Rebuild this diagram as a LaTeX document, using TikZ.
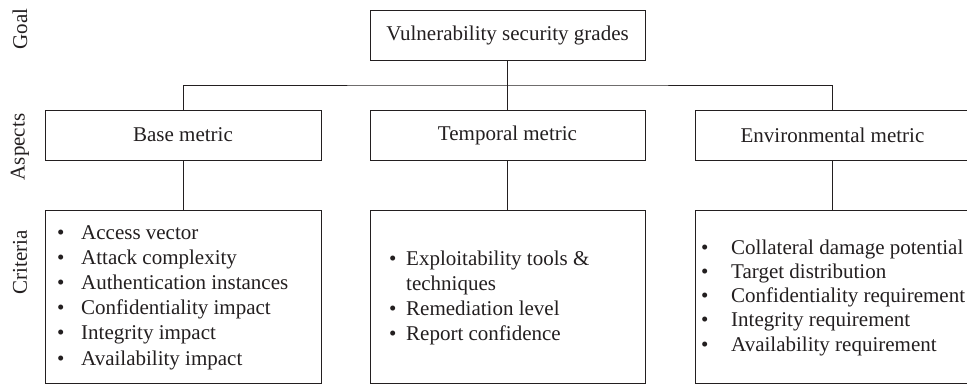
\documentclass[tikz,border=0pt]{standalone}
\usepackage{fontspec}
\setmainfont{Liberation Serif}
\definecolor{ink}{HTML}{231F20}
\newcommand{\critline}[5]{%
  \node[itm] (#1b) at (#2,#4) {\textbullet};
  \node[itm] (#1) at (#3,#4) {#5};}
\begin{document}
\begin{tikzpicture}[x=1pt,y=-1pt,
  font=\fontsize{21}{25}\selectfont,
  every node/.style={text=ink},
  box/.style={draw=ink, line width=1pt, minimum width=275pt, minimum height=50pt, inner sep=0pt},
  crit/.style={draw=ink, line width=1pt, minimum width=275pt, minimum height=173pt, inner sep=0pt},
  lbl/.style={rotate=90, inner sep=0pt},
  itm/.style={anchor=base west, inner sep=0pt},
  link/.style={draw=ink, line width=1pt}]
\useasboundingbox (0,0) rectangle (967,384);
\fill[white] (0,0) rectangle (967,384);
% level labels
\node[lbl] (lgoal) at (20,29) {Goal};
\node[lbl] (lasp) at (20,147) {Aspects};
\node[lbl] (lcrit) at (20,262) {Criteria};
% boxes
\node[box] (goal) at (507.5,35) {Vulnerability security grades};
\node[box, minimum width=276pt] (base) at (183,135) {Base metric};
\node[box] (temp) at (507.5,135) {Temporal metric};
\node[box] (env) at (832.5,135) {Environmental metric};
\node[crit, minimum width=276pt] (basec) at (183,296.5) {};
\node[crit] (tempc) at (507.5,296.5) {};
\node[crit] (envc) at (832.5,296.5) {};
% connectors
\coordinate (bus) at (507.5,85);
\draw[link] (base.north) |- (bus) -| (env.north);
\draw[link] (goal.south) -- (temp.north);
\draw[link] (base.south) -- (basec.north);
\draw[link] (temp.south) -- (tempc.north);
\draw[link] (env.south) -- (envc.north);
% base criteria
\critline{ba}{57}{81}{239}{Access vector}
\critline{bb}{57}{81}{264}{Attack complexity}
\critline{bc}{57}{81}{289}{Authentication instances}
\critline{bd}{57}{81}{314}{Confidentiality impact}
\critline{be}{57}{81}{339}{Integrity impact}
\critline{bf}{57}{81}{365}{Availability impact}
% temporal criteria
\critline{ta}{389}{406}{265}{Exploitability tools \&}
\node[itm] (tb) at (406,290) {techniques};
\critline{tc}{389}{406}{315}{Remediation level}
\critline{td}{389}{406}{340}{Report confidence}
% environmental criteria
\critline{ea}{701}{731}{254}{Collateral damage potential}
\critline{eb}{701}{731}{278}{Target distribution}
\critline{ec}{701}{731}{302}{Confidentiality requirement}
\critline{ed}{701}{731}{326}{Integrity requirement}
\critline{ee}{701}{731}{351}{Availability requirement}
\end{tikzpicture}
\end{document}
